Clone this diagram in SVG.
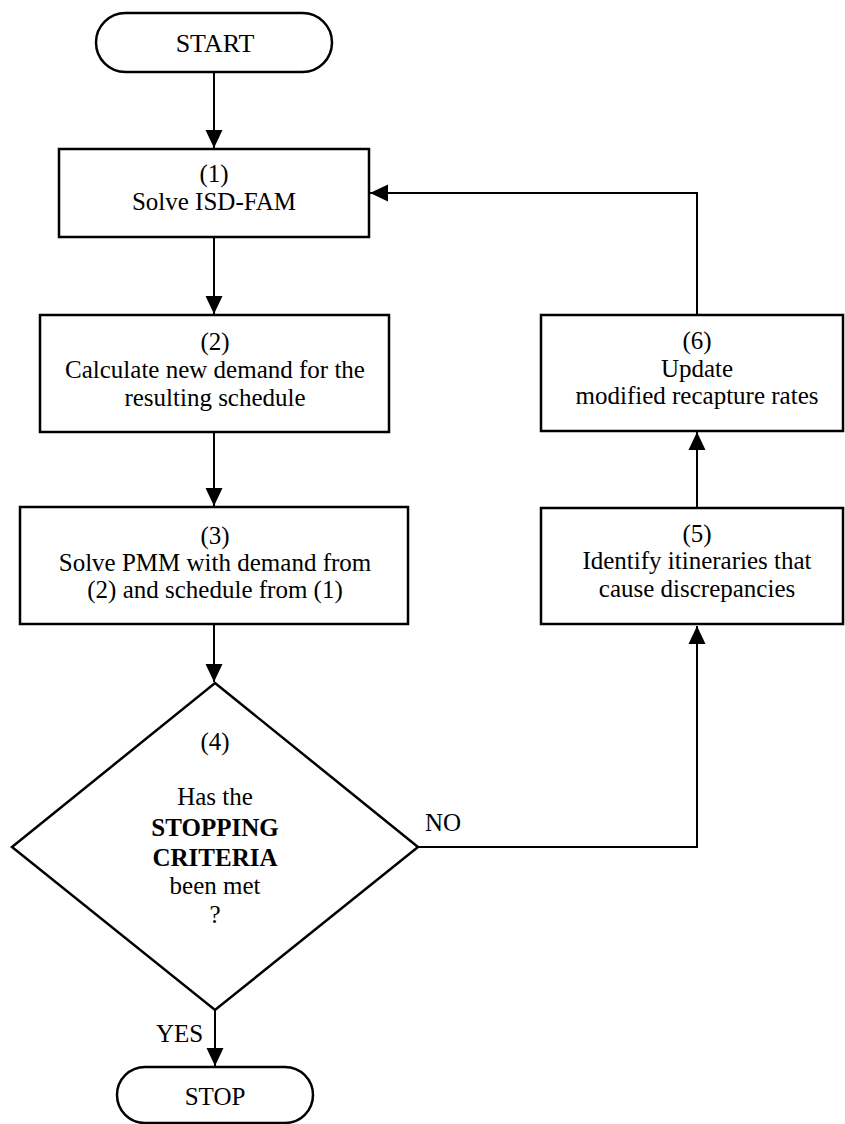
<svg xmlns="http://www.w3.org/2000/svg" width="845" height="1124" viewBox="0 0 845 1124">
  <defs>
    <marker id="arrow" markerUnits="userSpaceOnUse" markerWidth="18" markerHeight="18" viewBox="0 0 18 18" refX="18" refY="9" orient="auto">
      <path d="M0,0.5 L18,9 L0,17.5 Z" fill="#000"/>
    </marker>
    <style>
      .box { fill: #fff; stroke: #000; stroke-width: 2.5; }
      .edge { fill: none; stroke: #000; stroke-width: 2; }
      text { font-family: "Liberation Serif", "Times New Roman", Times, "DejaVu Serif", serif; font-size: 25px; fill: #000; text-anchor: middle; }
      .bold { font-weight: bold; }
      .label { text-anchor: start; }
    </style>
  </defs>

  <rect width="845" height="1124" fill="#fff"/>

  <g font-family="Liberation Serif, Times New Roman, DejaVu Serif, serif">
  <!-- connectors -->
  <g id="connectors">
    <line class="edge" x1="214" y1="72" x2="214" y2="148" marker-end="url(#arrow)"/>
    <line class="edge" x1="214" y1="237" x2="214" y2="314" marker-end="url(#arrow)"/>
    <line class="edge" x1="214" y1="432" x2="214" y2="506" marker-end="url(#arrow)"/>
    <line class="edge" x1="214" y1="624" x2="214" y2="682" marker-end="url(#arrow)"/>
    <polyline class="edge" points="418,847 697,847 697,626" marker-end="url(#arrow)"/>
    <line class="edge" x1="697" y1="508" x2="697" y2="432" marker-end="url(#arrow)"/>
    <polyline class="edge" points="697,315 697,193 370,193" marker-end="url(#arrow)"/>
    <line class="edge" x1="215" y1="1010" x2="215" y2="1066" marker-end="url(#arrow)"/>
    <text class="label" x="425" y="831">NO</text>
    <text class="label" x="156" y="1042">YES</text>
  </g>

  <!-- start terminator -->
  <g id="start">
    <rect class="box" x="96" y="13" width="236" height="59" rx="29.5" ry="29.5"/>
    <text x="215" y="52" style="font-size:26px">START</text>
  </g>

  <!-- step 1 -->
  <g id="step1">
    <rect class="box" x="59" y="149" width="310" height="88"/>
    <text x="214" y="182">(1)</text>
    <text x="214" y="210">Solve ISD-FAM</text>
  </g>

  <!-- step 2 -->
  <g id="step2">
    <rect class="box" x="40" y="315" width="349" height="117"/>
    <text x="215" y="350">(2)</text>
    <text x="215" y="378">Calculate new demand for the</text>
    <text x="215" y="406">resulting schedule</text>
  </g>

  <!-- step 3 -->
  <g id="step3">
    <rect class="box" x="20" y="507" width="388" height="117"/>
    <text x="215" y="544">(3)</text>
    <text x="215" y="571">Solve PMM with demand from</text>
    <text x="215" y="598">(2) and schedule from (1)</text>
  </g>

  <!-- step 4: decision -->
  <g id="step4">
    <polygon class="box" points="215,683 418,847 215,1010 12,847"/>
    <text x="215" y="750">(4)</text>
    <text x="215" y="805">Has the</text>
    <text class="bold" x="215" y="836">STOPPING</text>
    <text class="bold" x="215" y="866">CRITERIA</text>
    <text x="215" y="894">been met</text>
    <text x="215" y="923">?</text>
  </g>

  <!-- step 5 -->
  <g id="step5">
    <rect class="box" x="541" y="508" width="302" height="116"/>
    <text x="697" y="542">(5)</text>
    <text x="697" y="569">Identify itineraries that</text>
    <text x="697" y="597">cause discrepancies</text>
  </g>

  <!-- step 6 -->
  <g id="step6">
    <rect class="box" x="541" y="315" width="302" height="116"/>
    <text x="697" y="349">(6)</text>
    <text x="697" y="377">Update</text>
    <text x="697" y="404">modified recapture rates</text>
  </g>

  <!-- stop terminator -->
  <g id="stop">
    <rect class="box" x="117" y="1067" width="196" height="56" rx="28" ry="28"/>
    <text x="215" y="1105">STOP</text>
  </g>
  </g>
</svg>
